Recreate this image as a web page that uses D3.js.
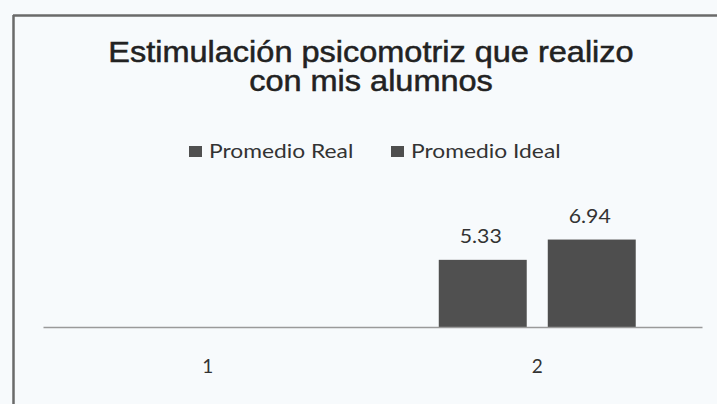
<!DOCTYPE html>
<html><head><meta charset="utf-8">
<script src="https://cdn.jsdelivr.net/npm/d3@7"></script>
<style>
html,body{margin:0;padding:0;background:#f7fafc;}
svg{display:block;}
</style></head>
<body>
<svg id="c" width="717" height="404"></svg>
<script>
const titleLines = ["Estimulación psicomotriz que realizo", "con mis alumnos"];
const categories = ["1", "2"];
const seriesNames = ["Promedio Real", "Promedio Ideal"];
const promedioReal = [null, 5.33];
const promedioIdeal = [null, 6.94];
const seriesValues = [promedioReal, promedioIdeal];
const seriesColors = ["#505050", "#4e4e4e"];

const svg = d3.select("#c");
const W = 717, H = 404;
svg.append("rect").attr("x",0).attr("y",0).attr("width",W).attr("height",H).attr("fill","#f7fafc");
// frame
svg.append("line").attr("x1",13).attr("x2",W).attr("y1",15.5).attr("y2",15.5).attr("stroke","#6a6a6a").attr("stroke-width",2.5);
svg.append("line").attr("x1",13.5).attr("x2",13.5).attr("y1",15).attr("y2",H).attr("stroke","#6a6a6a").attr("stroke-width",2.5);

// stretch helper (reference text is horizontally wider than the font)
function stretch(sel, k){
  sel.each(function(){
    const n = this; const L = n.getComputedTextLength();
    d3.select(n).attr("textLength", L*k).attr("lengthAdjust","spacingAndGlyphs");
  });
}

// title
const tt = svg.append("g").selectAll("text").data(titleLines).join("text")
  .attr("x",371).attr("y",(d,i)=>62+i*29)
  .attr("text-anchor","middle")
  .attr("font-family","'Liberation Sans', Arial, sans-serif")
  .attr("font-size",29).attr("fill","#222")
  .attr("stroke","#222").attr("stroke-width",0.5)
  .text(d=>d);
stretch(tt, 1.12);

// scales
const x0 = d3.scaleBand().domain(categories).range([43,702]).paddingInner(0).paddingOuter(0);
const x1 = d3.scaleBand().domain(seriesNames).range([0,x0.bandwidth()]).paddingInner(0.193).paddingOuter(0.608);
const y = d3.scaleLinear().domain([0,8]).range([327,327-12.6*8]);

// bars
const rows = [];
categories.forEach((c,ci)=>seriesNames.forEach((s,si)=>{
  const v = seriesValues[si][ci];
  if (v!=null) rows.push({c,s,v,si});
}));
svg.append("g").selectAll("rect").data(rows).join("rect")
  .attr("x",d=>x0(d.c)+x1(d.s)).attr("width",x1.bandwidth())
  .attr("y",d=>y(d.v)).attr("height",d=>y(0)-y(d.v))
  .attr("fill",d=>seriesColors[d.si]);

// data labels
const dl = svg.append("g").selectAll("text").data(rows).join("text")
  .attr("x",d=>x0(d.c)+x1(d.s)+x1.bandwidth()/2 - 2)
  .attr("y",d=>y(d.v)-17)
  .attr("text-anchor","middle")
  .attr("font-family","Lato, 'Open Sans', sans-serif")
  .attr("font-size",19).attr("fill","#333")
  .text(d=>d.v.toFixed(2));
stretch(dl, 1.12);

// axis
const ax = svg.append("g").attr("transform","translate(0,327)")
  .call(d3.axisBottom(x0).tickSize(0).tickPadding(0));
ax.select(".domain").attr("stroke","#9a9a9a").attr("stroke-width",1.5);
ax.selectAll(".tick text").attr("dy",0).attr("y",46)
  .attr("font-family","Lato, 'Open Sans', sans-serif")
  .attr("font-size",19).attr("fill","#333");

// legend
const legendX = [189, 391];
const lg = svg.append("g").selectAll("g").data(seriesNames).join("g")
  .attr("transform",(d,i)=>`translate(${legendX[i]},0)`);
lg.append("rect").attr("x",0).attr("y",146).attr("width",13).attr("height",11)
  .attr("fill",(d,i)=>seriesColors[i]);
const lt = lg.append("text").attr("x",20).attr("y",158)
  .attr("font-family","Lato, 'Open Sans', sans-serif")
  .attr("font-size",19).attr("fill","#333")
  .text(d=>d);
stretch(lt, 1.2);
</script>
</body></html>
